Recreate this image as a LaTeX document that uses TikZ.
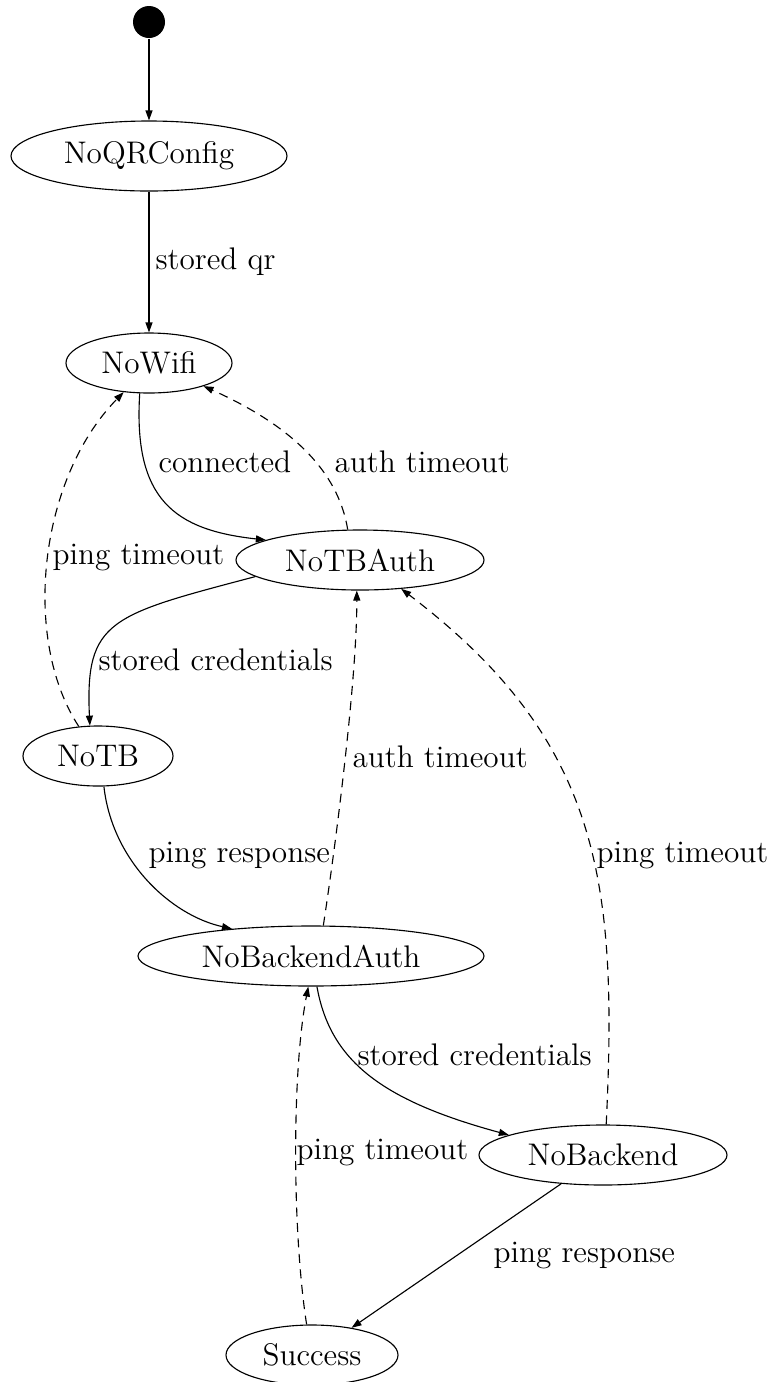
\documentclass[tikz,border=0pt]{standalone}
\usetikzlibrary{arrows.meta,shapes.geometric}
\begin{document}
\begin{tikzpicture}[x=0.4pt, y=-0.4pt, line width=0.45pt,
  txt/.style={font=\fontsize{12.5}{15}\selectfont},
  state/.style={ellipse, draw, inner sep=0pt, txt},
  lbl/.style={anchor=west, inner sep=0pt, txt},
  trans/.style={-{Triangle[length=4pt,width=2.8pt]}},
  timeout/.style={trans, dash pattern=on 3.6pt off 2.6pt}]
\useasboundingbox (0,0) rectangle (774,1382);

% states
\node[circle, fill=black, minimum size=12.8pt, inner sep=0pt] (init) at (149,22) {};
\node[state, minimum width=110.4pt, minimum height=28pt] (noqr) at (149,156) {NoQRConfig};
\node[state, minimum width=66.4pt, minimum height=24pt] (nowifi) at (149,363) {NoWifi};
\node[state, minimum width=99.2pt, minimum height=24pt] (notbauth) at (360,560) {NoTBAuth};
\node[state, minimum width=60pt, minimum height=24pt] (notb) at (98,756) {NoTB};
\node[state, minimum width=138.4pt, minimum height=24pt] (nobeauth) at (311,956) {NoBackendAuth};
\node[state, minimum width=99.2pt, minimum height=24pt] (nobe) at (603,1155) {NoBackend};
\node[state, minimum width=68.8pt, minimum height=24pt] (success) at (312,1355) {Success};

% transitions
\draw[trans] (init) -- (noqr);
\draw[trans] (noqr) -- (nowifi);
\draw[trans] (nowifi.253) .. controls (133,500) and (175,530) .. (notbauth.168);
\draw[timeout] (notbauth.112) .. controls (338,470) and (290,425) .. (nowifi.337);
\draw[timeout] (notb.123) .. controls (22,640) and (38,480) .. (nowifi.229);
\draw[trans] (notbauth.189) .. controls (110,615) and (85,620) .. (notb.105);
\draw[timeout] (nobeauth.68) .. controls (335,850) and (357,680) .. (notbauth.264);
\draw[trans] (notb.281) .. controls (112,860) and (170,915) .. (nobeauth.161);
\draw[timeout] (nobe.84) .. controls (618,880) and (600,740) .. (notbauth.325);
\draw[trans] (nobeauth.281) .. controls (330,1060) and (380,1100) .. (nobe.168);
\draw[timeout] (success.100) .. controls (292,1230) and (292,1070) .. (nobeauth.265);
\draw[trans] (nobe) -- (success);

% transition labels
\node[lbl] (lqr) at (155,262) {stored qr};
\node[lbl] (lconn) at (158,462) {connected};
\node[lbl] (lauth1) at (334,462) {auth timeout};
\node[lbl] (lping1) at (52,557) {ping timeout};
\node[lbl] (lcred1) at (98,660) {stored credentials};
\node[lbl] (lauth2) at (352,757) {auth timeout};
\node[lbl] (lresp1) at (148,855) {ping response};
\node[lbl] (lping2) at (596,855) {ping timeout};
\node[lbl] (lcred2) at (357,1055) {stored credentials};
\node[lbl] (lping3) at (296,1152) {ping timeout};
\node[lbl] (lresp2) at (493,1255) {ping response};
\end{tikzpicture}
\end{document}
